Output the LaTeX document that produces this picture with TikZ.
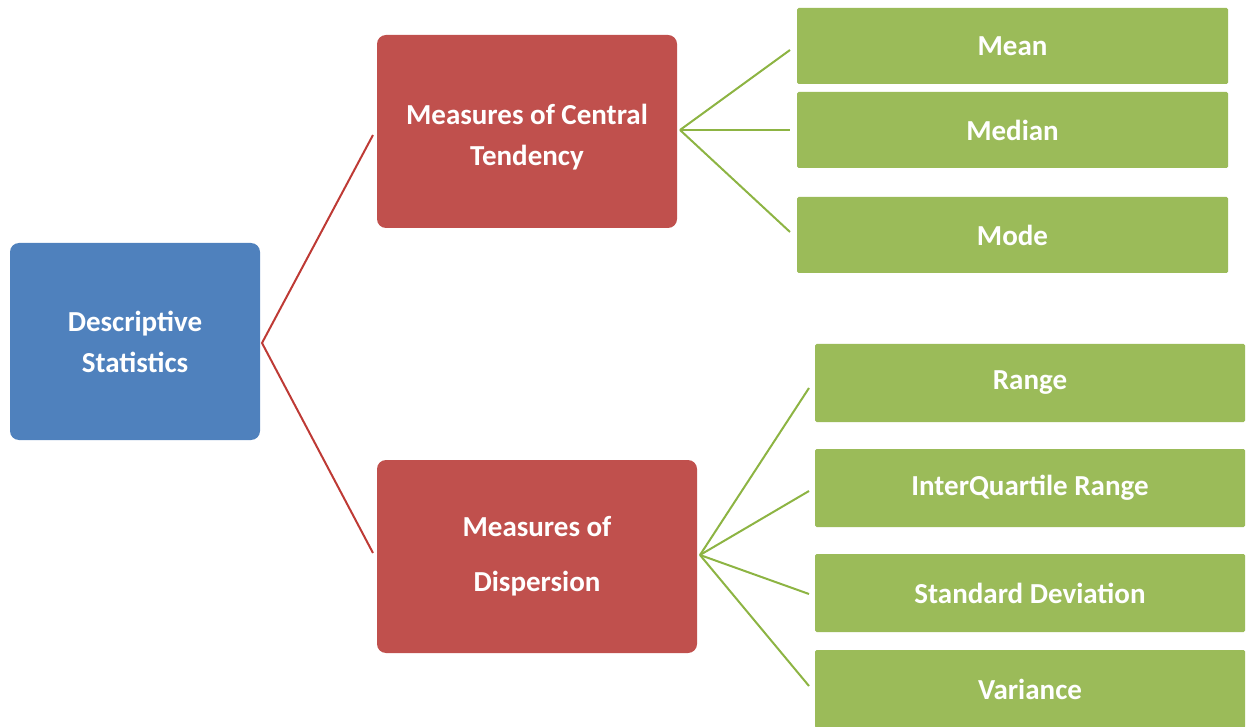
\documentclass[tikz,border=0pt]{standalone}
\usepackage{fontspec}
\setmainfont{Carlito}
\definecolor{bluebox}{HTML}{4F81BD}
\definecolor{redbox}{HTML}{C0504D}
\definecolor{greenbox}{HTML}{9BBB59}
\definecolor{redline}{HTML}{BE3A35}
\definecolor{greenline}{HTML}{8DB443}
\begin{document}
\begin{tikzpicture}[x=1pt,y=-1pt,
  base/.style={draw=none,text=white,font=\fontsize{29}{41}\selectfont\bfseries,align=center,inner sep=0pt},
  bluenode/.style={base,fill=bluebox,rounded corners=9pt},
  rednode/.style={base,fill=redbox,rounded corners=9pt},
  greennode/.style={base,fill=greenbox,rounded corners=1.5pt},
  redconn/.style={draw=redline,line width=2pt},
  greenconn/.style={draw=greenline,line width=2pt}]
\useasboundingbox (0,0) rectangle (1248,727);
% boxes
\node[bluenode,minimum width=250pt,minimum height=197pt] (ds) at (135,341.5) {Descriptive\\Statistics};
\node[rednode,minimum width=300pt,minimum height=193pt] (ct) at (527,131.5) {\rule{0pt}{32pt}Measures of Central\\Tendency};
\node[rednode,minimum width=320pt,minimum height=193pt] (md) at (537,556.5) {Measures of\\[14pt]Dispersion};
\node[greennode,minimum width=431pt,minimum height=76pt] (mean) at (1012.5,46) {Mean};
\node[greennode,minimum width=431pt,minimum height=76pt] (median) at (1012.5,130) {Median};
\node[greennode,minimum width=431pt,minimum height=76pt] (mode) at (1012.5,235) {Mode};
\node[greennode,minimum width=430pt,minimum height=78pt] (range) at (1030,383) {Range};
\node[greennode,minimum width=430pt,minimum height=78pt] (iqr) at (1030,488) {InterQuartile Range};
\node[greennode,minimum width=430pt,minimum height=78pt] (sd) at (1030,593) {Standard Deviation};
\node[greennode,minimum width=430pt,minimum height=78pt] (var) at (1030,689) {Variance};
% connector points
\coordinate (dsR) at (262,343);
\coordinate (ctL) at (373,135);
\coordinate (mdL) at (373,553);
\coordinate (ctR) at (680,130);
\coordinate (mdR) at (700,555);
\coordinate (meanL) at (790,50);
\coordinate (medianL) at (790,130);
\coordinate (modeL) at (790,232);
\coordinate (rangeL) at (809,388);
\coordinate (iqrL) at (809,491);
\coordinate (sdL) at (809,594);
\coordinate (varL) at (809,686);
\draw[redconn] (ctL) -- (dsR) -- (mdL);
\draw[greenconn] (ctR) -- (meanL);
\draw[greenconn] (ctR) -- (medianL);
\draw[greenconn] (ctR) -- (modeL);
\draw[greenconn] (mdR) -- (rangeL);
\draw[greenconn] (mdR) -- (iqrL);
\draw[greenconn] (mdR) -- (sdL);
\draw[greenconn] (mdR) -- (varL);
\end{tikzpicture}
\end{document}
